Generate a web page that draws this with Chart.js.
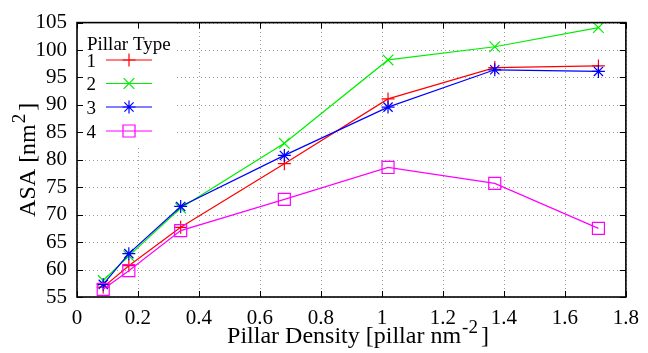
<!DOCTYPE html>
<html>
<head>
<meta charset="utf-8">
<script src="https://cdn.jsdelivr.net/npm/chart.js@4/dist/chart.umd.min.js"></script>
<style>
  html, body { margin: 0; padding: 0; background: #fff; }
  #wrap { width: 648px; height: 353px; position: relative; }
</style>
</head>
<body>
<div id="wrap"><canvas id="c"></canvas></div>
<script>
// Pillar density (pillar nm^-2) for each measurement
const density = [0.086, 0.17, 0.34, 0.68, 1.02, 1.37, 1.71];

// Accessible surface area (nm^2) per pillar type
const type1 = [56.8, 60.7, 67.7, 79.3, 91.1, 96.8, 97.1];
const type2 = [58.0, 62.5, 71.2, 83.0, 98.2, 100.6, 104.1];
const type3 = [57.3, 62.9, 71.5, 80.8, 89.6, 96.4, 96.1];
const type4 = [56.4, 59.8, 67.1, 72.8, 78.6, 75.7, 67.5];

const seriesNames = ['1', '2', '3', '4'];
const legendTitle = 'Pillar Type';
// [text, isSuperscript, gapAfter]
const xTitle = [['Pillar Density [pillar nm', false, 1], ['-2', true, 3], [']', false, 0]];
const yTitle = [['ASA [nm', false, 1], ['2', true, 3], [']', false, 0]];

const SERIF = '"Liberation Serif", "Times New Roman", serif';

const styles = [
  { color: '#ff0000', point: 'cross',    radius: 6.5 },
  { color: '#00ee00', point: 'crossRot', radius: 7.5 },
  { color: '#0000ff', point: 'star',     radius: 6.5 },
  { color: '#ff00ff', point: 'rect',     radius: 8.5 }
];

const values = [type1, type2, type3, type4];

const datasets = values.map((vals, i) => ({
  label: seriesNames[i],
  data: density.map((x, k) => ({ x: x, y: vals[k] })),
  borderColor: styles[i].color,
  backgroundColor: 'rgba(0,0,0,0)',
  borderWidth: 1.2,
  pointStyle: styles[i].point,
  pointRadius: styles[i].radius,
  pointHoverRadius: styles[i].radius,
  pointBorderColor: styles[i].color,
  pointBackgroundColor: 'rgba(0,0,0,0)',
  pointBorderWidth: 1.2,
  tension: 0,
  fill: false,
  order: 3 - i   // later types are painted on top
}));

// Text with a raised, smaller exponent part, centred on the origin
function drawRichText(ctx, parts, size) {
  const supSize = Math.round(size * 0.8);
  let total = 0;
  const widths = parts.map(([t, sup, gap]) => {
    ctx.font = (sup ? supSize : size) + 'px ' + SERIF;
    const w = ctx.measureText(t).width + gap;
    total += w;
    return w;
  });
  let x = -total / 2;
  parts.forEach(([t, sup], i) => {
    ctx.font = (sup ? supSize : size) + 'px ' + SERIF;
    ctx.fillText(t, x, sup ? -size * 0.4 : 0);
    x += widths[i];
  });
}

const framePlugin = {
  id: 'frame',
  beforeDatasetsDraw(chart) {
    const a = chart.chartArea;
    const ctx = chart.ctx;
    const xs = chart.scales.x, ys = chart.scales.y;
    ctx.save();
    // dotted grid
    ctx.strokeStyle = '#9a9a9a';
    ctx.lineWidth = 1;
    ctx.setLineDash([1, 3]);
    ctx.beginPath();
    xs.ticks.forEach(tk => {
      const px = Math.round(xs.getPixelForValue(tk.value)) + 0.5;
      ctx.moveTo(px, a.bottom); ctx.lineTo(px, a.top);
    });
    ys.ticks.forEach(tk => {
      const py = Math.round(ys.getPixelForValue(tk.value)) + 0.5;
      ctx.moveTo(a.left, py); ctx.lineTo(a.right, py);
    });
    ctx.stroke();
    ctx.setLineDash([]);
    // opaque key box in the upper-left corner
    ctx.fillStyle = '#ffffff';
    ctx.fillRect(a.left, a.top, 100, 125);
    ctx.restore();
  },
  afterDatasetsDraw(chart) {
    const a = chart.chartArea;
    const ctx = chart.ctx;
    const xs = chart.scales.x, ys = chart.scales.y;
    ctx.save();
    ctx.strokeStyle = '#000';
    ctx.lineWidth = 1;
    const t = 6;
    ctx.beginPath();
    xs.ticks.forEach(tk => {
      const px = Math.round(xs.getPixelForValue(tk.value)) + 0.5;
      ctx.moveTo(px, a.bottom); ctx.lineTo(px, a.bottom - t);
      ctx.moveTo(px, a.top); ctx.lineTo(px, a.top + t);
    });
    ys.ticks.forEach(tk => {
      const py = Math.round(ys.getPixelForValue(tk.value)) + 0.5;
      ctx.moveTo(a.left, py); ctx.lineTo(a.left + t, py);
      ctx.moveTo(a.right, py); ctx.lineTo(a.right - t, py);
    });
    ctx.stroke();
    ctx.lineWidth = 1.6;
    ctx.strokeRect(a.left, a.top, a.right - a.left, a.bottom - a.top);
    ctx.restore();
  },
  afterDraw(chart) {
    const a = chart.chartArea;
    const ctx = chart.ctx;
    ctx.save();
    ctx.fillStyle = '#000';
    ctx.textBaseline = 'alphabetic';

    // axis titles
    ctx.save();
    ctx.translate(358, 343);
    drawRichText(ctx, xTitle, 24);
    ctx.restore();

    ctx.save();
    ctx.translate(35, (a.top + a.bottom) / 2);
    ctx.rotate(-Math.PI / 2);
    drawRichText(ctx, yTitle, 24);
    ctx.restore();

    // key
    ctx.font = '19px ' + SERIF;
    ctx.textAlign = 'left';
    ctx.fillText(legendTitle, a.left + 10, a.top + 27);
    const rowY = [60, 83.5, 107, 131];
    styles.forEach((s, i) => {
      const y = rowY[i];
      ctx.textAlign = 'right';
      ctx.fillStyle = '#000';
      ctx.font = '19px ' + SERIF;
      ctx.fillText(seriesNames[i], a.left + 19, y + 6.5);
      ctx.strokeStyle = s.color;
      ctx.lineWidth = 1.2;
      ctx.beginPath();
      ctx.moveTo(a.left + 29, y);
      ctx.lineTo(a.left + 75, y);
      ctx.stroke();
      ctx.fillStyle = 'rgba(0,0,0,0)';
      Chart.helpers.drawPoint(ctx, { pointStyle: s.point, radius: s.radius, borderWidth: 1.2, rotation: 0 }, a.left + 52, y);
    });
    ctx.restore();
  }
};

new Chart(document.getElementById('c'), {
  type: 'line',
  data: { datasets: datasets },
  options: {
    responsive: true,
    maintainAspectRatio: false,
    animation: false,
    devicePixelRatio: 1,
    layout: { padding: { top: 17, right: 18, left: 0, bottom: 0 } },
    plugins: { legend: { display: false }, tooltip: { enabled: false } },
    scales: {
      x: {
        type: 'linear',
        min: 0, max: 1.8,
        grid: { display: false, drawTicks: false },
        border: { display: false },
        ticks: {
          stepSize: 0.2,
          autoSkip: false,
          maxRotation: 0,
          padding: 9,
          color: '#000',
          font: { family: SERIF, size: 21 },
          callback: v => String(Math.round(v * 10) / 10)
        },
        afterFit: s => { s.height = 56; }
      },
      y: {
        type: 'linear',
        min: 55, max: 105,
        grid: { display: false, drawTicks: false },
        border: { display: false },
        ticks: {
          stepSize: 5,
          autoSkip: false,
          padding: 10,
          color: '#000',
          font: { family: SERIF, size: 21 }
        },
        afterFit: s => { s.width = 77; }
      }
    }
  },
  plugins: [framePlugin]
});
</script>
</body>
</html>
